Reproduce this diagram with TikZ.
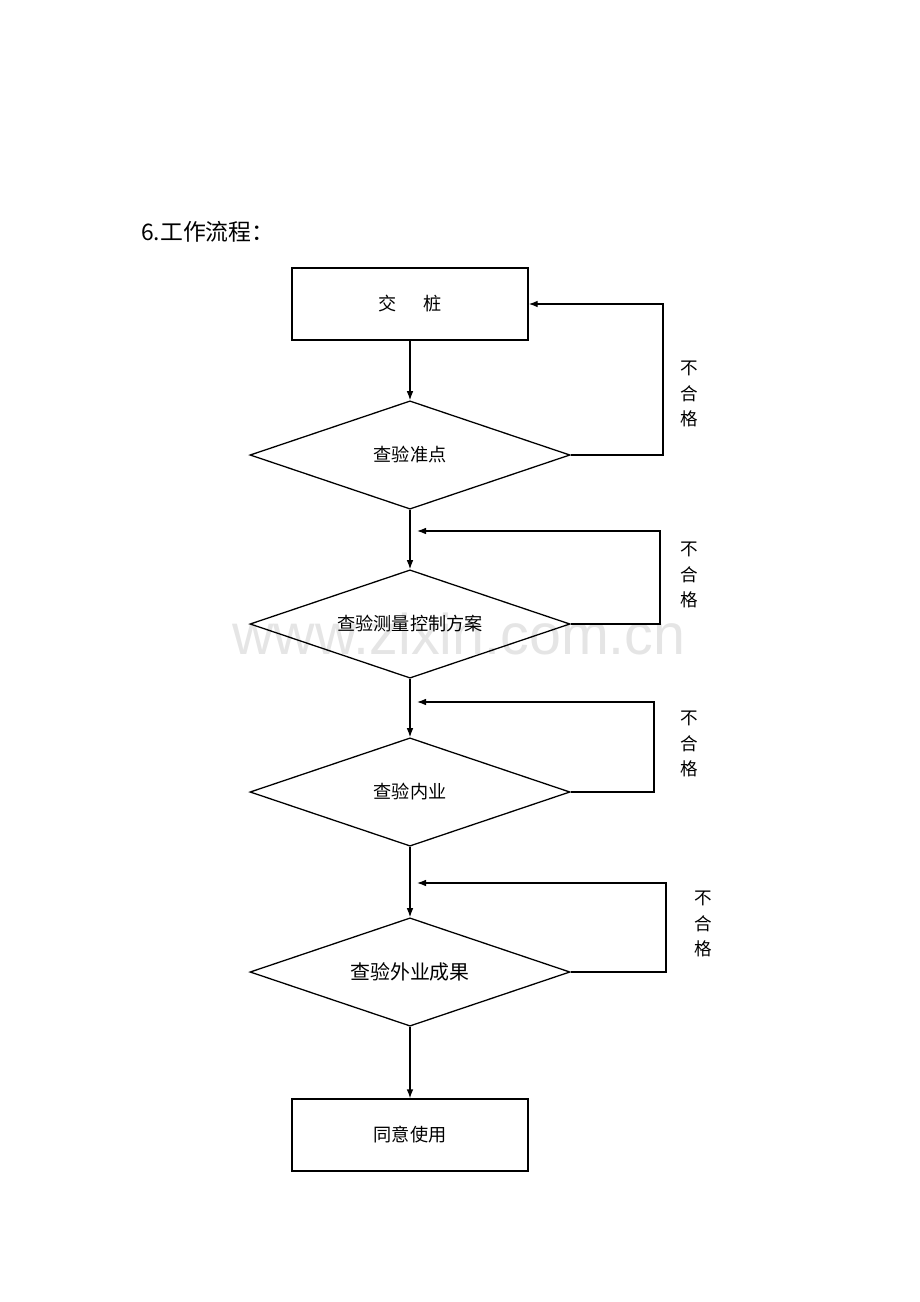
\documentclass[tikz,border=0pt]{standalone}
\usepackage{fontspec}
\setmainfont{Noto Sans CJK SC}
\newfontfamily\wmfont{Liberation Sans}
\usetikzlibrary{shapes.geometric,arrows.meta}

\tikzset{
  flowbox/.style={draw,rectangle,line width=1.1pt,minimum width=7.08cm,minimum height=2.16cm,inner sep=0pt},
  checkbox/.style={draw,diamond,line width=1.1pt,minimum width=9.6cm,minimum height=3.25cm,inner sep=0pt,
    label={[flowtext]center:#1}},
  flowtext/.style={font=\fontsize{15.5}{18}\selectfont},
  nglabel/.style={align=center,font=\fontsize{15}{21.5}\selectfont},
  flowarrow/.style={line width=1.1pt,-{Latex[length=0.27cm,width=0.2cm]}}
}

\begin{document}
\begin{tikzpicture}[x=0.03cm,y=-0.03cm]
\useasboundingbox (0,0) rectangle (920,1302);

% watermark
\node[text=black!10,font=\wmfont\fontsize{49}{50}\selectfont] (wm) at (459,634) {www.zixin.com.cn};

\node[anchor=west,font=\fontsize{19.5}{22}\selectfont] (title) at (137,232) {6.工作流程：};

\node[flowbox,flowtext] (jz) at (410,304) {交\hspace{0.8cm}桩};
\node[checkbox=查验准点] (zd) at (410,455) {};
\node[checkbox=查验测量控制方案] (fa) at (410,624) {};
\node[checkbox=查验内业] (ny) at (410,792) {};
\node[checkbox={\fontsize{17}{20}\selectfont 查验外业成果}] (wy) at (410,972) {};
\node[flowbox,flowtext] (ty) at (410,1135) {同意使用};

\draw[flowarrow] (jz) -- (zd);
\draw[flowarrow] (zd) -- (fa);
\draw[flowarrow] (fa) -- (ny);
\draw[flowarrow] (ny) -- (wy);
\draw[flowarrow] (wy) -- (ty);

\coordinate (r1) at (663,455);
\coordinate (r2) at (660,531);
\coordinate (e2) at (417,531);
\coordinate (r3) at (654,702);
\coordinate (e3) at (417,702);
\coordinate (r4) at (666,883);
\coordinate (e4) at (417,883);

\draw[flowarrow] (zd.east) -- (r1) |- (jz.east);
\draw[flowarrow] (fa.east) -| (r2) -- (e2);
\draw[flowarrow] (ny.east) -| (r3) -- (e3);
\draw[flowarrow] (wy.east) -| (r4) -- (e4);

\node[nglabel] (ng1) at (689,394) {不\\合\\格};
\node[nglabel] (ng2) at (689,575) {不\\合\\格};
\node[nglabel] (ng3) at (689,744) {不\\合\\格};
\node[nglabel] (ng4) at (703,924) {不\\合\\格};
\end{tikzpicture}
\end{document}
